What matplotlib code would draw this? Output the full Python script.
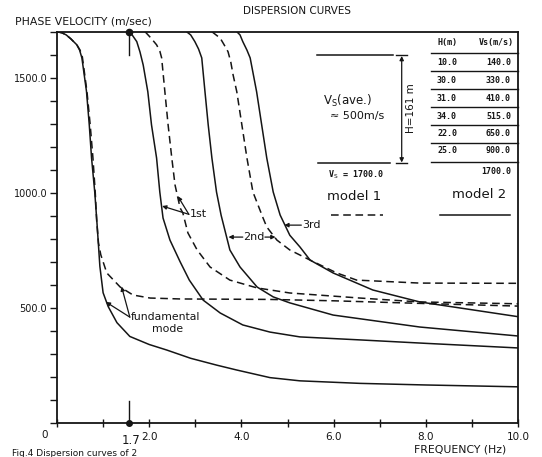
import matplotlib
matplotlib.use("Agg")
import matplotlib.pyplot as plt
from matplotlib.lines import Line2D
from matplotlib.patches import FancyArrowPatch

# ---------------- data ----------------
# model 2 (solid)
s0_f = [0.0, 0.11, 0.2, 0.30, 0.43, 0.49, 0.54, 0.64, 0.70, 0.75, 0.82, 0.87, 0.93, 1.0, 1.11, 1.3, 1.58, 2.0, 2.38, 2.9, 3.47, 3.9, 4.62, 5.27, 6.57, 8.0, 10.0]
s0_v = [1700, 1695, 1686, 1669, 1643, 1620, 1586, 1440, 1295, 1150, 1000, 860, 680, 565, 505, 435, 375, 340, 316, 280, 250, 229, 196, 182, 171, 164, 156]

s1_f = [1.55, 1.63, 1.73, 1.80, 1.87, 1.97, 2.05, 2.16, 2.23, 2.30, 2.45, 2.67, 2.87, 3.17, 3.54, 4.03, 4.62, 5.27, 6.57, 8.0, 10.0]
s1_v = [1700, 1686, 1657, 1612, 1555, 1439, 1295, 1151, 1003, 890, 794, 700, 620, 533, 477, 425, 394, 373, 360, 345, 325]

s2_f = [2.81, 2.90, 2.99, 3.07, 3.14, 3.21, 3.28, 3.36, 3.46, 3.56, 3.75, 3.97, 4.34, 4.69, 5.05, 5.99, 7.87, 10.0]
s2_v = [1700, 1686, 1657, 1625, 1586, 1439, 1295, 1151, 1003, 902, 751, 677, 590, 547, 521, 468, 416, 377]

s3_f = [3.9, 3.97, 4.03, 4.12, 4.19, 4.33, 4.44, 4.55, 4.69, 4.84, 5.05, 5.27, 5.49, 5.99, 6.85, 7.87, 10.0]
s3_v = [1700, 1686, 1657, 1620, 1586, 1439, 1295, 1151, 1003, 903, 815, 764, 707, 651, 577, 525, 461]

# model 1 (dashed)
d0_f = [0.0, 0.11, 0.2, 0.30, 0.43, 0.50, 0.55, 0.65, 0.72, 0.78, 0.83, 0.86, 0.9, 0.95, 1.08, 1.37, 1.65, 2.02, 2.67, 4.6, 6.0, 8.0, 10.0]
d0_v = [1700, 1695, 1686, 1669, 1643, 1620, 1590, 1440, 1295, 1150, 1000, 880, 781, 730, 651, 590, 555, 542, 538, 536, 530, 518, 507]

d1_f = [1.91, 2.04, 2.16, 2.23, 2.27, 2.34, 2.41, 2.49, 2.56, 2.67, 2.73, 2.84, 3.04, 3.32, 3.75, 4.34, 5.05, 6.57, 7.87, 10.0]
d1_v = [1700, 1672, 1643, 1616, 1586, 1439, 1295, 1151, 1034, 934, 912, 825, 751, 677, 620, 586, 564, 542, 525, 517]

d2_f = [3.36, 3.45, 3.54, 3.62, 3.71, 3.77, 3.82, 3.90, 4.01, 4.12, 4.25, 4.47, 4.55, 4.77, 5.05, 5.49, 6.07, 6.50, 7.87, 10.0]
d2_v = [1700, 1686, 1672, 1645, 1613, 1568, 1512, 1439, 1295, 1151, 1003, 890, 851, 794, 751, 707, 651, 620, 607, 606]

cutoff_f = 1.56
cutoff_label = "1.7"

x_ticks = [0, 1, 2, 3, 4, 5, 6, 7, 8, 9, 10]
x_tick_labels = ["", "", "2.0", "", "4.0", "", "6.0", "", "8.0", "", "10.0"]
y_ticks = list(range(0, 1701, 100))
y_tick_labels = {500: "500.0", 1000: "1000.0", 1500: "1500.0"}

table_h = ["10.0", "30.0", "31.0", "34.0", "22.0", "25.0"]
table_vs = ["140.0", "330.0", "410.0", "515.0", "650.0", "900.0"]
half_space_vs = "1700.0"

# ---------------- figure ----------------
W, H = 542, 457
fig = plt.figure(figsize=(W / 100, H / 100), dpi=100)
fig.patch.set_facecolor("white")

def fx(x):
    return x / W

def fy(y):
    return 1 - y / H

L, R, T, B = 57, 518, 31.7, 422.7
ax = fig.add_axes([fx(L), fy(B), (R - L) / W, (B - T) / H])
ink = "#151515"
lw = 1.1

for f, v in [(s0_f, s0_v), (s1_f, s1_v), (s2_f, s2_v), (s3_f, s3_v)]:
    ax.plot(f, v, color=ink, lw=lw, solid_joinstyle="round", solid_capstyle="round")
for f, v in [(d0_f, d0_v), (d1_f, d1_v), (d2_f, d2_v)]:
    ax.plot(f, v, color=ink, lw=lw, dashes=(5, 3), dash_joinstyle="round")

ax.set_xlim(0, 10)
ax.set_ylim(0, 1700)
ax.set_xticks(x_ticks)
ax.set_xticklabels(x_tick_labels)
ax.set_yticks(y_ticks)
ax.set_yticklabels([y_tick_labels.get(t, "") for t in y_ticks])
ax.tick_params(axis="y", direction="out", length=5, width=1.0, labelsize=7, pad=2, colors=ink)
ax.tick_params(axis="x", direction="inout", length=6, width=1.0, labelsize=7.5, pad=4, colors=ink)
for s in ax.spines.values():
    s.set_linewidth(1.3)
    s.set_color(ink)
ax.set_facecolor("white")

# cutoff marker (top and bottom)
ax.plot([cutoff_f, cutoff_f], [1700, 1600], color=ink, lw=1.0, clip_on=False)
ax.plot([cutoff_f], [1700], "o", color=ink, ms=4.5, clip_on=False)
ax.plot([cutoff_f, cutoff_f], [0, 95], color=ink, lw=1.0, clip_on=False)
ax.plot([cutoff_f], [0], "o", color=ink, ms=4, clip_on=False)
fig.text(fx(131), fy(440), cutoff_label, ha="center", va="center", fontsize=8.5, color=ink)
fig.text(fx(45), fy(435), "0", ha="center", va="center", fontsize=7.5, color=ink)

# titles / axis labels
fig.text(fx(297), fy(11), "DISPERSION CURVES", ha="center", va="center", fontsize=7.5, color=ink)
fig.text(fx(15), fy(22), "PHASE VELOCITY (m/sec)", ha="left", va="center", fontsize=7.8, color=ink)
fig.text(fx(460), fy(450), "FREQUENCY (Hz)", ha="center", va="center", fontsize=7.8, color=ink)
fig.text(fx(12), fy(453), "Fig.4 Dispersion curves of 2", ha="left", va="center", fontsize=6.5, color=ink)

# mode labels with leaders
arr = dict(arrowstyle="-|>", lw=0.9, color=ink, mutation_scale=6, shrinkA=0, shrinkB=0)
ax.annotate("", xy=(2.28, 942), xytext=(2.86, 906), arrowprops=arr)
ax.annotate("", xy=(2.62, 985), xytext=(2.86, 906), arrowprops=arr)
ax.text(2.88, 906, "1st", ha="left", va="center", fontsize=8, color=ink)

ax.annotate("", xy=(3.72, 807), xytext=(4.03, 807), arrowprops=arr)
ax.annotate("", xy=(4.74, 807), xytext=(4.51, 807), arrowprops=arr)
ax.text(4.27, 807, "2nd", ha="center", va="center", fontsize=8, color=ink)

ax.annotate("", xy=(4.93, 859), xytext=(5.30, 859), arrowprops=arr)
ax.text(5.31, 859, "3rd", ha="left", va="center", fontsize=8, color=ink)

ax.annotate("", xy=(1.06, 525), xytext=(1.58, 459), arrowprops=arr)
ax.annotate("", xy=(1.40, 592), xytext=(1.58, 459), arrowprops=arr)
ax.text(1.60, 459, "fundamental", ha="left", va="center", fontsize=7.8, color=ink)
ax.text(2.40, 406, "mode", ha="center", va="center", fontsize=7.8, color=ink)

# model 1 sketch
def fline(x0, y0, x1, y1, **kw):
    fig.add_artist(Line2D([fx(x0), fx(x1)], [fy(y0), fy(y1)], color=ink, **kw))

fline(316.7, 55, 393, 55, lw=1.1)
fline(396, 55, 407, 55, lw=1.0)
fline(318, 163.3, 390, 163.3, lw=1.1)
fline(396, 163.3, 407, 163.3, lw=1.0)
fig.add_artist(FancyArrowPatch(
    (fx(401.7), fy(56)), (fx(401.7), fy(162.5)), transform=fig.transFigure,
    arrowstyle="<|-|>", mutation_scale=6, lw=0.9, color=ink, shrinkA=0, shrinkB=0))
fig.text(fx(411), fy(108), "H=161 m", rotation=90, ha="center", va="center", fontsize=7.5, color=ink)
fig.text(fx(323), fy(101), r"V$_\mathrm{S}$(ave.)", ha="left", va="center", fontsize=8.5, color=ink)
fig.text(fx(330), fy(116), "≈ 500m/s", ha="left", va="center", fontsize=8, color=ink)
fig.text(fx(328), fy(175), r"V$_\mathrm{S}$ = 1700.0", ha="left", va="center", fontsize=6, color=ink,
         family="DejaVu Sans Mono", weight="bold")
fig.text(fx(354), fy(196), "model 1", ha="center", va="center", fontsize=9.5, color=ink)
fline(331, 215, 383, 215, lw=1.1, dashes=(5, 3))

# model 2 table
fig.text(fx(447), fy(42), "H(m)", ha="center", va="center", fontsize=6, color=ink,
         family="DejaVu Sans Mono", weight="bold")
fig.text(fx(496), fy(42), "Vs(m/s)", ha="center", va="center", fontsize=6, color=ink,
         family="DejaVu Sans Mono", weight="bold")
row_y = [62.7, 80.7, 98.7, 116.7, 133.3, 150.7]
sep_y = [53.3, 71, 89.3, 107.3, 125, 142.7, 161.7]
for y in sep_y:
    fline(431, y, 518, y, lw=1.0)
for hv, vv, y in zip(table_h, table_vs, row_y):
    fig.text(fx(437), fy(y), hv, ha="left", va="center", fontsize=6, color=ink,
             family="DejaVu Sans Mono", weight="bold")
    fig.text(fx(511), fy(y), vv, ha="right", va="center", fontsize=6, color=ink,
             family="DejaVu Sans Mono", weight="bold")
fig.text(fx(511), fy(171), half_space_vs, ha="right", va="center", fontsize=6, color=ink,
         family="DejaVu Sans Mono", weight="bold")
fig.text(fx(479), fy(195), "model 2", ha="center", va="center", fontsize=9.5, color=ink)
fline(440, 215, 510, 215, lw=1.1)

fig.savefig("out.png", dpi=100, facecolor="white")
